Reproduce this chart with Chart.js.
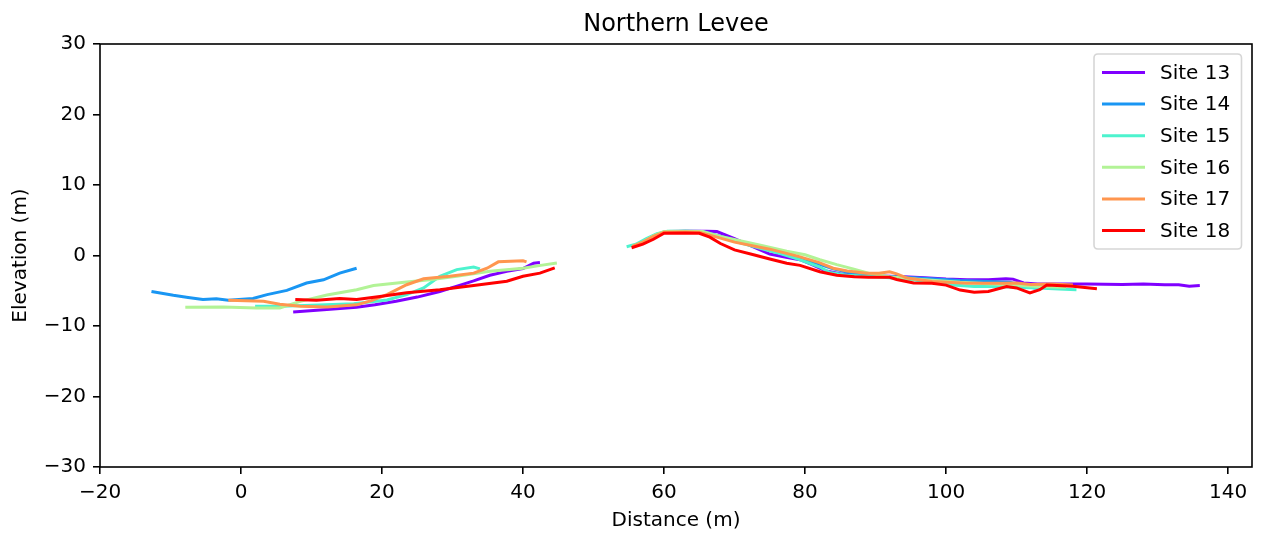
<!DOCTYPE html>
<html><head><meta charset="utf-8">
<script src="https://cdn.jsdelivr.net/npm/chart.js@4/dist/chart.umd.min.js"></script>
<style>html,body{margin:0;padding:0;background:#fff;overflow:hidden}#wrap{width:1263px;height:536px}</style>
</head><body><div id="wrap"><canvas id="c" width="1263" height="536"></canvas></div>
<script>
const chartTitle = 'Northern Levee';
const xLabel = 'Distance (m)';
const yLabel = 'Elevation (m)';
const xTicks = [-20, 0, 20, 40, 60, 80, 100, 120, 140];
const yTicks = [-30, -20, -10, 0, 10, 20, 30];
const siteNames = ['Site 13', 'Site 14', 'Site 15', 'Site 16', 'Site 17', 'Site 18'];
const siteColors = ['#8000ff', '#1996f3', '#4df3ce', '#b2f396', '#ff964f', '#ff0000'];

// each site: left profile, null gap, right profile
const site13X = [7.4, 11.7, 16.4, 19, 22, 25, 28.2, 31.1, 33, 35.3, 37.7, 40, 41.5, 42.4, null,
  56, 57.5, 59, 60.5, 63, 66, 67.5, 70, 72.5, 75, 77.5, 79.3, 81, 83, 85, 88, 91, 94, 97, 100, 103, 106, 108.5, 109.5, 111, 113, 116, 120, 125, 128, 131, 133, 134.5, 136];
const site13Y = [-8.0, -7.7, -7.35, -7.0, -6.5, -5.9, -5.1, -4.2, -3.6, -2.8, -2.25, -1.85, -1.1, -1.0, null,
  1.5, 2.1, 2.9, 3.4, 3.45, 3.45, 3.4, 2.4, 1.3, 0.2, -0.3, -0.6, -1.3, -2.2, -2.6, -2.85, -2.9, -3.0, -3.15, -3.35, -3.45, -3.45, -3.3, -3.35, -3.9, -4.05, -4.05, -4.05, -4.1, -4.05, -4.15, -4.15, -4.35, -4.25];
const site14X = [-12.7, -9.6, -7.5, -5.4, -3.5, -1.8, 1.7, 3.7, 6.5, 9.3, 11.7, 14.0, 16.4, null,
  55.5, 57, 58.5, 60, 63, 65.5, 67, 70, 72.6, 75, 78, 81, 84, 87, 90, 94, 98, 102, 106, 109, 111, 112.5, 114];
const site14Y = [-5.1, -5.65, -5.95, -6.25, -6.15, -6.35, -6.1, -5.55, -4.95, -3.9, -3.45, -2.5, -1.8, null,
  1.3, 1.9, 2.8, 3.35, 3.45, 3.4, 3.0, 2.2, 1.5, 0.9, 0.1, -0.9, -1.9, -2.6, -2.9, -3.1, -3.3, -3.55, -3.7, -3.8, -4.2, -4.6, -4.5];
const site15X = [2.0, 5.5, 9, 12, 16, 20.7, 23.5, 25.9, 28.2, 30.6, 33.0, 33.9, null,
  54.7, 56, 57.5, 59, 60.5, 63, 65.5, 67, 70, 73, 76, 79, 82, 83.5, 86, 90, 94, 98, 101, 104, 107, 110, 113, 116, 118.5];
const site15Y = [-7.2, -7.2, -7.1, -7.0, -6.85, -6.3, -5.55, -4.6, -2.95, -2.0, -1.65, -1.9, null,
  1.25, 1.6, 2.4, 3.1, 3.45, 3.45, 3.35, 2.9, 2.0, 1.2, 0.4, -0.5, -1.6, -2.4, -2.8, -3.0, -3.3, -3.8, -4.2, -4.4, -4.4, -4.5, -4.6, -4.75, -4.85];
const site16X = [-7.9, -2.5, 2.2, 5.5, 8.4, 12.2, 16.4, 18.8, 23.5, 26.8, 30.6, 35.3, 40.0, 42.5, 44.8, null,
  55.5, 57, 58.5, 60, 63, 65.5, 68, 70.3, 74, 77.4, 80, 82.1, 84.5, 86.8, 89, 92, 95, 98, 102, 106, 110, 113, 117];
const site16Y = [-7.35, -7.3, -7.45, -7.45, -6.5, -5.6, -4.85, -4.25, -3.75, -3.45, -2.95, -2.25, -1.8, -1.4, -1.05, null,
  1.3, 1.9, 2.8, 3.4, 3.45, 3.4, 2.7, 2.2, 1.4, 0.6, 0.1, -0.6, -1.3, -1.9, -2.5, -3.0, -3.3, -3.5, -3.8, -4.0, -4.2, -4.4, -4.5];
const site17X = [-1.8, 3.2, 5.5, 8.4, 12.2, 16.4, 18.5, 20.7, 23.5, 25.9, 29.6, 33.0, 34.9, 36.5, 40.0, 40.5, null,
  55.5, 57, 58.5, 60, 63, 65, 67.5, 70, 75, 79.3, 82, 84, 86, 88.7, 90.5, 92, 93, 94.5, 98, 103, 108, 110, 112, 115, 118];
const site17Y = [-6.35, -6.5, -6.9, -7.2, -7.3, -7.0, -6.4, -5.55, -4.15, -3.3, -2.95, -2.5, -1.8, -0.9, -0.75, -0.9, null,
  1.3, 1.9, 2.7, 3.3, 3.35, 3.3, 2.6, 1.9, 0.9, -0.2, -1.0, -1.8, -2.2, -2.5, -2.5, -2.3, -2.6, -3.2, -3.7, -3.95, -3.95, -3.9, -4.1, -4.05, -4.2];
const site18X = [7.7, 10.7, 14.0, 16.4, 19.7, 23.5, 28.2, 33.0, 37.7, 40.0, 42.4, 44.5, null,
  55.4, 57, 58.5, 60, 63, 65, 66.5, 68, 70, 72.7, 75, 77.4, 79.3, 82.1, 84.5, 87, 89, 92, 93, 95.4, 98, 100, 102, 104, 106, 108.6, 110, 111.9, 113.3, 114.3, 118, 121.4];
const site18Y = [-6.25, -6.35, -6.1, -6.25, -5.8, -5.3, -4.85, -4.25, -3.65, -2.95, -2.5, -1.75, null,
  1.1, 1.6, 2.3, 3.15, 3.2, 3.15, 2.6, 1.7, 0.8, 0.1, -0.5, -1.1, -1.4, -2.3, -2.8, -3.0, -3.1, -3.1, -3.4, -3.9, -3.95, -4.2, -4.9, -5.2, -5.1, -4.4, -4.6, -5.3, -4.85, -4.2, -4.35, -4.7];

const siteXs = [site13X, site14X, site15X, site16X, site17X, site18X];
const siteYs = [site13Y, site14Y, site15Y, site16Y, site17Y, site18Y];

const FONT = 'DejaVu Sans';
const fmt = v => (v < 0 ? '\u2212' + Math.abs(v) : String(v));

const datasets = siteNames.map((name, i) => ({
  label: name,
  data: siteXs[i].map((x, j) => ({x: x, y: siteYs[i][j]})),
  borderColor: siteColors[i],
  backgroundColor: siteColors[i],
  borderWidth: 3,
  pointRadius: 0,
  tension: 0,
  fill: false,
  spanGaps: false,
  order: -i
}));

const framePlugin = {
  id: 'frame',
  afterDraw(chart) {
    const {ctx, chartArea: a} = chart;
    ctx.save();
    // spines
    ctx.strokeStyle = '#000';
    ctx.lineWidth = 1.6;
    ctx.strokeRect(a.left, a.top, a.right - a.left, a.bottom - a.top);
    // title
    ctx.fillStyle = '#000';
    ctx.font = '24px "' + FONT + '"';
    ctx.textAlign = 'center';
    ctx.textBaseline = 'alphabetic';
    ctx.fillText(chartTitle, (a.left + a.right) / 2, 31);
    // legend
    const bx = 1094, by = 54, bw = 147.5, bh = 195, r = 4;
    ctx.beginPath();
    ctx.moveTo(bx + r, by);
    ctx.lineTo(bx + bw - r, by); ctx.quadraticCurveTo(bx + bw, by, bx + bw, by + r);
    ctx.lineTo(bx + bw, by + bh - r); ctx.quadraticCurveTo(bx + bw, by + bh, bx + bw - r, by + bh);
    ctx.lineTo(bx + r, by + bh); ctx.quadraticCurveTo(bx, by + bh, bx, by + bh - r);
    ctx.lineTo(bx, by + r); ctx.quadraticCurveTo(bx, by, bx + r, by);
    ctx.closePath();
    ctx.fillStyle = 'rgba(255,255,255,0.8)';
    ctx.fill();
    ctx.strokeStyle = '#d6d6d6';
    ctx.lineWidth = 1.6;
    ctx.stroke();
    ctx.font = '20px "' + FONT + '"';
    ctx.textAlign = 'left';
    ctx.textBaseline = 'middle';
    siteNames.forEach((name, i) => {
      const y = 72.5 + i * 31.6;
      ctx.strokeStyle = siteColors[i];
      ctx.lineWidth = 3;
      ctx.beginPath();
      ctx.moveTo(1102, y); ctx.lineTo(1145, y);
      ctx.stroke();
      ctx.fillStyle = '#000';
      ctx.fillText(name, 1160, y + 1);
    });
    ctx.restore();
  }
};

const tickFont = {family: FONT, size: 20};

new Chart(document.getElementById('c').getContext('2d'), {
  type: 'line',
  data: {datasets},
  plugins: [framePlugin],
  options: {
    responsive: false,
    animation: false,
    devicePixelRatio: 1,
    layout: {padding: {top: 44, right: 11, left: 0, bottom: 0}},
    plugins: {legend: {display: false}, title: {display: false}, tooltip: {enabled: false}},
    scales: {
      x: {
        type: 'linear', min: -20, max: 143.4,
        afterFit(s) { s.height = 69; },
        afterBuildTicks(s) { s.ticks = xTicks.map(v => ({value: v})); },
        ticks: {font: tickFont, color: '#000', padding: 7, maxRotation: 0, autoSkip: false, callback: fmt},
        grid: {drawOnChartArea: false, drawTicks: true, tickLength: 7, tickWidth: 1.6, tickColor: '#000', lineWidth: 1.6},
        border: {display: false},
        title: {display: true, text: xLabel, font: tickFont, color: '#000', padding: {top: 0, bottom: 3}}
      },
      y: {
        type: 'linear', min: -30, max: 30,
        afterFit(s) { s.width = 100; },
        afterBuildTicks(s) { s.ticks = yTicks.map(v => ({value: v})); },
        ticks: {font: tickFont, color: '#000', padding: 7, autoSkip: false, callback: fmt},
        grid: {drawOnChartArea: false, drawTicks: true, tickLength: 7, tickWidth: 1.6, tickColor: '#000', lineWidth: 1.6},
        border: {display: false},
        title: {display: true, text: yLabel, font: tickFont, color: '#000', padding: {top: 9, bottom: 0}}
      }
    }
  }
});
</script></body></html>
